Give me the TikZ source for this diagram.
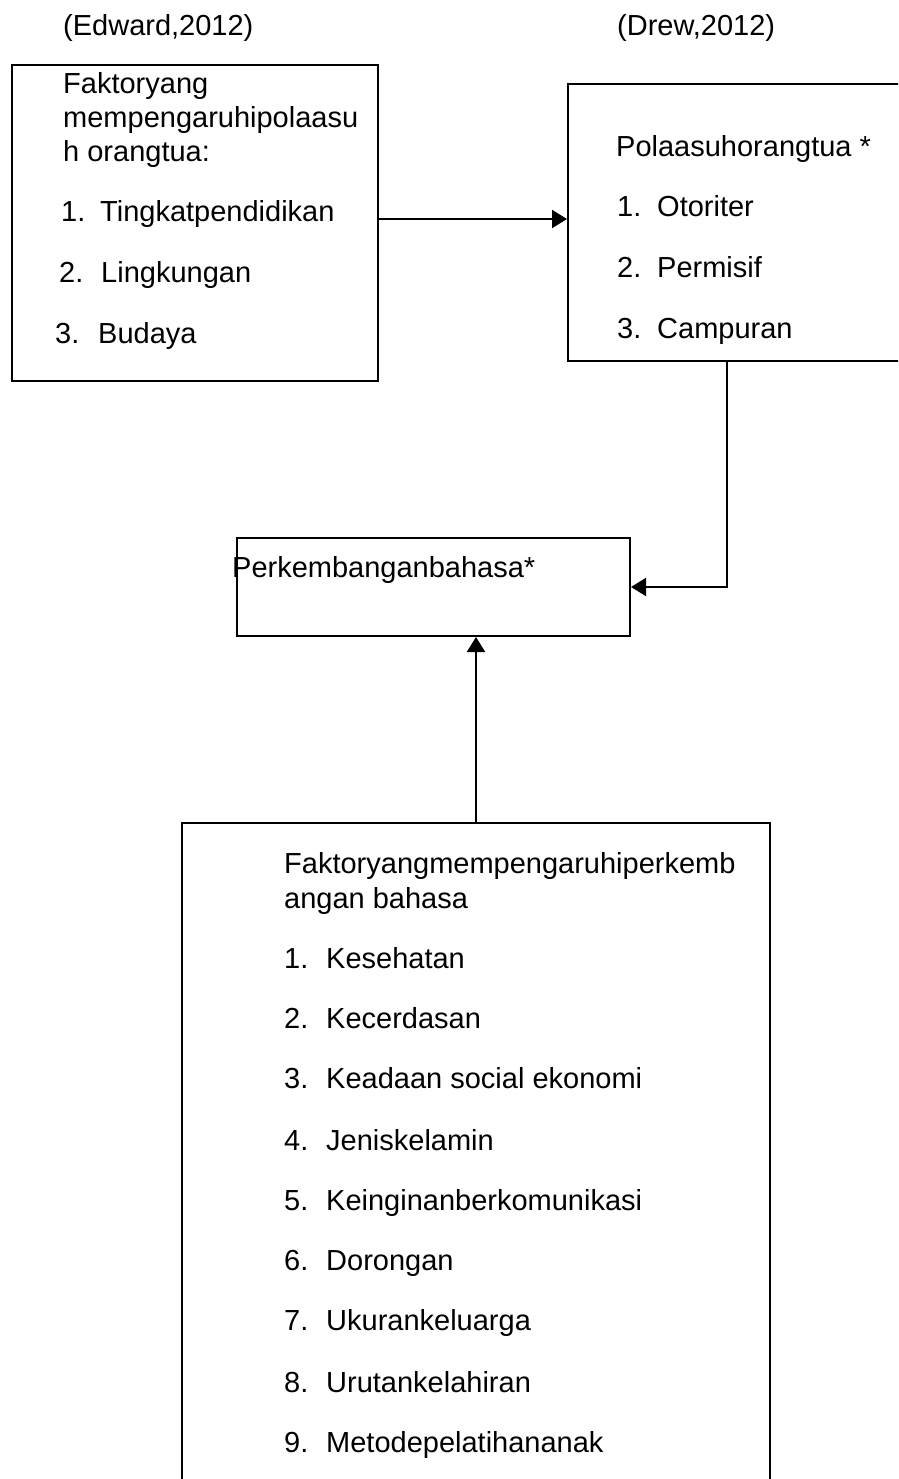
\documentclass[tikz,border=0pt]{standalone}
\usepackage{fontspec}
\setmainfont{Liberation Sans}
\usetikzlibrary{arrows.meta}
\begin{document}
\begin{tikzpicture}[x=1pt,y=-1pt,
  boxnode/.style={draw, line width=2pt, rectangle, inner sep=0pt, anchor=north west},
  txt/.style={inner sep=0pt, anchor=base west, font=\fontsize{29}{34}\selectfont},
  arr/.style={line width=2pt, -{Triangle[length=15pt,width=18pt]}}]
\useasboundingbox (0,0) rectangle (898,1479);
\clip (0,0) rectangle (898,1479);
% headers
\node[txt] (h1) at (63,36) {(Edward,2012)};
\node[txt] (h2) at (617,36) {(Drew,2012)};
% boxes
\node[boxnode, minimum width=366pt, minimum height=316pt] (b1) at (11,64) {};
\node[boxnode, minimum width=360pt, minimum height=277pt] (b2) at (567,83) {};
\node[boxnode, minimum width=393pt, minimum height=98pt] (b3) at (236,537) {};
\node[boxnode, minimum width=588pt, minimum height=720pt] (b4) at (181,822) {};
% box 1 text
\node[txt] (t1a) at (63,94) {Faktoryang};
\node[txt] (t1b) at (63,128) {mempengaruhipolaasu};
\node[txt] (t1c) at (63,162) {h orangtua:};
\node[txt] (t1d) at (61,222) {\makebox[39pt][l]{1.}Tingkatpendidikan};
\node[txt] (t1e) at (59,282) {\makebox[42pt][l]{2.}Lingkungan};
\node[txt] (t1f) at (55,343) {\makebox[43pt][l]{3.}Budaya};
% box 2 text
\node[txt] (t2a) at (616,157) {Polaasuhorangtua *};
\node[txt] (t2b) at (617,217) {\makebox[40pt][l]{1.}Otoriter};
\node[txt] (t2c) at (617,277) {\makebox[40pt][l]{2.}Permisif};
\node[txt] (t2d) at (617,338) {\makebox[40pt][l]{3.}Campuran};
% box 3 text
\node[txt] (t3) at (232,577) {Perkembanganbahasa*};
% box 4 text
\node[txt] (t4a) at (284,873) {Faktoryangmempengaruhiperkemb};
\node[txt] (t4b) at (284,908) {angan bahasa};
\node[txt] (t4c) at (284,968) {\makebox[42pt][l]{1.}Kesehatan};
\node[txt] (t4d) at (284,1028) {\makebox[42pt][l]{2.}Kecerdasan};
\node[txt] (t4e) at (284,1088) {\makebox[42pt][l]{3.}Keadaan social ekonomi};
\node[txt] (t4f) at (284,1150) {\makebox[42pt][l]{4.}Jeniskelamin};
\node[txt] (t4g) at (284,1210) {\makebox[42pt][l]{5.}Keinginanberkomunikasi};
\node[txt] (t4h) at (284,1270) {\makebox[42pt][l]{6.}Dorongan};
\node[txt] (t4i) at (284,1330) {\makebox[42pt][l]{7.}Ukurankeluarga};
\node[txt] (t4j) at (284,1392) {\makebox[42pt][l]{8.}Urutankelahiran};
\node[txt] (t4k) at (284,1452) {\makebox[42pt][l]{9.}Metodepelatihananak};
% connectors
\draw[arr] ([yshift=4pt]b1.east) -- ([yshift=4pt]b1.east -| b2.west);
\draw[arr] ([xshift=160pt]b2.south west) |- (b3.east);
\draw[arr] (b4.north) -- (b4.north |- b3.south);
\end{tikzpicture}
\end{document}
